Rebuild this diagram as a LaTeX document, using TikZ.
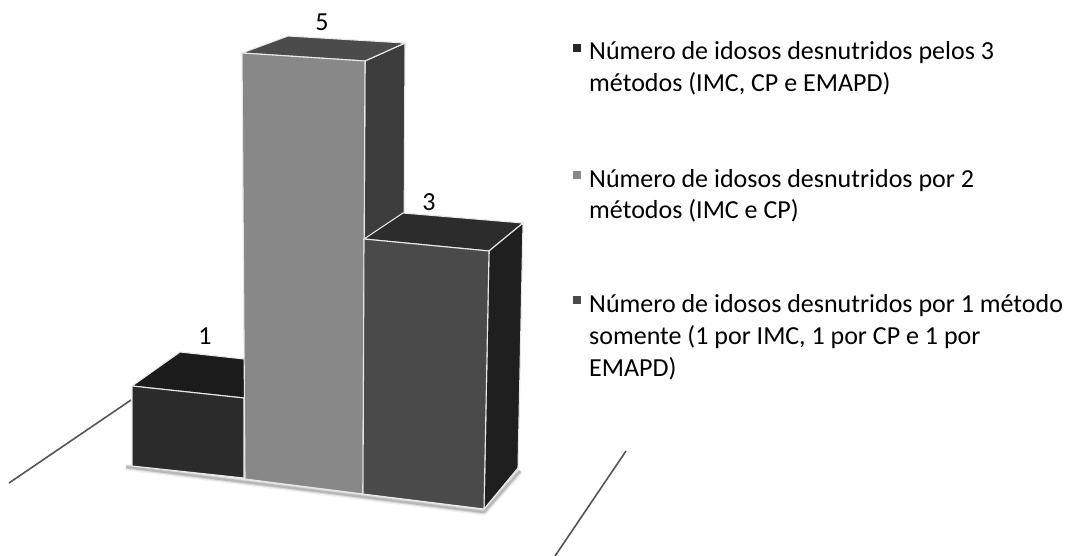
\documentclass[tikz,border=0pt]{standalone}
\usepackage{fontspec}
\setmainfont{Carlito}
\definecolor{bAfront}{HTML}{2B2B2B}
\definecolor{bAtop}{HTML}{1B1B1B}
\definecolor{bBfront}{HTML}{888888}
\definecolor{bBtop}{HTML}{4B4B4B}
\definecolor{bBside}{HTML}{3C3C3C}
\definecolor{bCfront}{HTML}{4A4A4A}
\definecolor{bCtop}{HTML}{2C2C2C}
\definecolor{bCside}{HTML}{1F1F1F}
\definecolor{edgec}{HTML}{E8E8E8}
\definecolor{floorc}{HTML}{555555}
\begin{document}
\begin{tikzpicture}[x=1pt,y=-1pt,
  face/.style={draw=edgec,line width=1.1pt,line join=round},
  floorline/.style={draw=floorc,line width=1.6pt},
  vallabel/.style={font=\fontsize{26}{30}\selectfont,anchor=base,inner sep=0pt},
  legtext/.style={font=\fontsize{26}{32}\selectfont,anchor=base west,inner sep=0pt},
  legmark/.style={minimum size=8pt,inner sep=0pt,draw=none}]
\useasboundingbox (0,0) rectangle (1067,556);
\fill[white] (0,0) rectangle (1067,556);
% floor lines
\draw[floorline] (9,483) -- (131,400);
\draw[floorline] (626,451) -- (555,556);
% soft shadow below bars
\foreach \w/\o in {7/0.05,4.5/0.09,2.5/0.16}{
  \draw[black,opacity=\o,line width=\w pt,line join=round]
    (126,467) -- (245,482) -- (484,512) -- (520,471);
}
% bar 1
\filldraw[face,fill=bAtop] (132,386) -- (180,352) -- (290,364) -- (244,398) -- cycle;
\filldraw[face,fill=bAfront] (132,386) -- (244,398) -- (244,478) -- (132,466) -- cycle;
% bar 2
\filldraw[face,fill=bBside] (365,61) -- (405,43) -- (403,460) -- (363,494) -- cycle;
\filldraw[face,fill=bBtop] (242,53) -- (288,36) -- (405,43) -- (365,61) -- cycle;
\filldraw[face,fill=bBfront] (242,53) -- (365,61) -- (363,494) -- (245,479) -- cycle;
% bar 3
\filldraw[face,fill=bCtop] (364,239) -- (403,213) -- (523,223) -- (489,251) -- cycle;
\filldraw[face,fill=bCside] (489,251) -- (523,223) -- (518,468) -- (484,509) -- cycle;
\filldraw[face,fill=bCfront] (364,239) -- (489,251) -- (484,509) -- (363,494) -- cycle;
% value labels
\node[vallabel] (v1) at (205,344) {1};
\node[vallabel] (v5) at (322,31) {5};
\node[vallabel] (v3) at (429,210) {3};
% legend
\node[legmark,fill=bAfront!90!black] (m1) at (577,48) {};
\node[legtext] (l1) at (589,60) {\begin{tabular}[t]{@{}l@{}}Número de idosos desnutridos pelos 3\\métodos (IMC, CP e EMAPD)\end{tabular}};
\node[legmark,fill=bBfront] (m2) at (577,175) {};
\node[legtext] (l2) at (589,187) {\begin{tabular}[t]{@{}l@{}}Número de idosos desnutridos por 2\\métodos (IMC e CP)\end{tabular}};
\node[legmark,fill=bCfront] (m3) at (577,300) {};
\node[legtext] (l3) at (589,312) {\begin{tabular}[t]{@{}l@{}}Número de idosos desnutridos por 1 método\\somente (1 por IMC, 1 por CP e 1 por\\EMAPD)\end{tabular}};
\end{tikzpicture}
\end{document}
